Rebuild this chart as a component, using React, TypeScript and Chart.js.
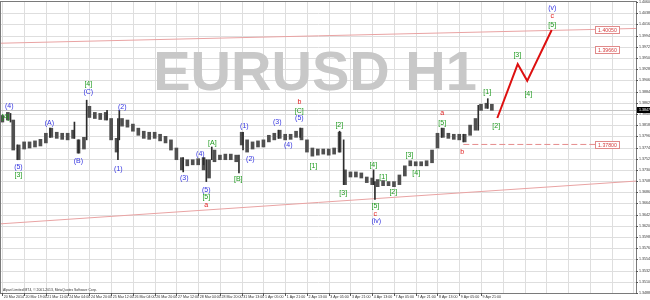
import React, { useEffect, useRef } from 'react';
import { Chart, registerables } from 'chart.js';

Chart.register(...registerables);

// ---- time axis (bar index of each grid line / label, H1 bars) ----
const timeTickBars = [0, 16, 32, 48, 64, 80, 96, 112, 128, 144, 160, 176, 192, 208, 224, 240, 256, 272, 288, 304, 320, 336, 352, 368, 384, 400, 416, 432, 448, 464];
const timeLabels = [
  '20 Mar 2014', '20 Mar 19:00', '21 Mar 11:00', '24 Mar 04:00', '24 Mar 20:00', '25 Mar 12:00',
  '26 Mar 04:00', '26 Mar 20:00', '27 Mar 12:00', '28 Mar 04:00', '28 Mar 20:00', '31 Mar 13:00',
  '1 Apr 05:00', '1 Apr 21:00', '2 Apr 13:00', '3 Apr 05:00', '3 Apr 21:00', '4 Apr 13:00',
  '7 Apr 05:00', '7 Apr 21:00', '8 Apr 13:00', '9 Apr 05:00', '9 Apr 21:00',
];

// ---- price axis ----
const priceTicks = [
  1.4060, 1.4038, 1.4016, 1.3994, 1.3972, 1.3950, 1.3928, 1.3906, 1.3884, 1.3862, 1.3840, 1.3818, 1.3796,
  1.3774, 1.3752, 1.3730, 1.3708, 1.3686, 1.3664, 1.3642, 1.3620, 1.3598, 1.3576, 1.3554, 1.3532, 1.3510, 1.3488,
];

// ---- price bars (sampled every 4 H1 bars): high / low ----
const bandBars = [
  0, 4, 8, 12, 16, 20, 24, 28, 32, 36, 40, 44, 48, 52, 56, 60, 64, 68, 72, 76, 80, 84, 88, 92, 96, 100,
  104, 108, 112, 116, 120, 124, 128, 132, 136, 140, 144, 148, 152, 156, 160, 164, 168, 172, 176, 180,
  184, 188, 192, 196, 200, 204, 208, 212, 216, 220, 224, 228, 232, 236, 240, 244, 248, 252, 256, 260,
  264, 268, 272, 276, 280, 284, 288, 292, 296, 300, 304, 308, 312, 316, 320, 324, 328, 332, 336, 340,
  344, 348, 352, 356, 360,
];
const bandHigh = [
  1.3837, 1.3843, 1.3828, 1.3779, 1.3785, 1.3785, 1.3787, 1.3790, 1.3802, 1.3812, 1.3804, 1.3802, 1.3802,
  1.3808, 1.3789, 1.3794, 1.3855, 1.3843, 1.3841, 1.3843, 1.3831, 1.3792, 1.3831, 1.3828, 1.3820, 1.3812,
  1.3806, 1.3804, 1.3804, 1.3800, 1.3796, 1.3789, 1.3773, 1.3754, 1.3750, 1.3750, 1.3752, 1.3754, 1.3750,
  1.3769, 1.3759, 1.3761, 1.3761, 1.3759, 1.3804, 1.3789, 1.3785, 1.3787, 1.3789, 1.3798, 1.3802, 1.3808,
  1.3800, 1.3800, 1.3806, 1.3812, 1.3789, 1.3773, 1.3771, 1.3771, 1.3771, 1.3773, 1.3804, 1.3730, 1.3726,
  1.3726, 1.3724, 1.3716, 1.3714, 1.3711, 1.3709, 1.3707, 1.3707, 1.3720, 1.3738, 1.3748, 1.3746, 1.3746,
  1.3748, 1.3769, 1.3802, 1.3812, 1.3802, 1.3800, 1.3800, 1.3800, 1.3818, 1.3831, 1.3859, 1.3861, 1.3859,
];
const bandLow = [
  1.3824, 1.3828, 1.3769, 1.3750, 1.3771, 1.3773, 1.3775, 1.3777, 1.3783, 1.3794, 1.3792, 1.3790, 1.3789,
  1.3792, 1.3763, 1.3771, 1.3833, 1.3831, 1.3829, 1.3828, 1.3789, 1.3765, 1.3816, 1.3814, 1.3806, 1.3798,
  1.3792, 1.3790, 1.3792, 1.3787, 1.3783, 1.3769, 1.3750, 1.3730, 1.3738, 1.3740, 1.3740, 1.3730, 1.3714,
  1.3746, 1.3750, 1.3750, 1.3750, 1.3746, 1.3779, 1.3765, 1.3771, 1.3775, 1.3775, 1.3785, 1.3789, 1.3792,
  1.3789, 1.3790, 1.3794, 1.3789, 1.3765, 1.3757, 1.3759, 1.3761, 1.3759, 1.3761, 1.3765, 1.3701, 1.3716,
  1.3716, 1.3714, 1.3705, 1.3701, 1.3697, 1.3699, 1.3699, 1.3697, 1.3701, 1.3718, 1.3738, 1.3738, 1.3738,
  1.3738, 1.3744, 1.3773, 1.3794, 1.3792, 1.3790, 1.3789, 1.3785, 1.3798, 1.3808, 1.3847, 1.3851, 1.3847,
];

// ---- single-bar spikes ----
const spikeBars = [6, 11, 35, 53, 56, 62, 77, 85, 86, 133, 148, 150, 154, 174, 177, 203, 219, 248, 251, 273, 274, 323, 339, 350, 357];
const spikeHigh = [1.3841, 1.3779, 1.3812, 1.3824, 1.3789, 1.3867, 1.3847, 1.3831, 1.3847, 1.3754, 1.3754, 1.3750, 1.3775, 1.3759, 1.3804, 1.3808, 1.3812, 1.3806, 1.3789, 1.3730, 1.3707, 1.3812, 1.3800, 1.3857, 1.3870];
const spikeLow = [1.3824, 1.3750, 1.3794, 1.3792, 1.3763, 1.3789, 1.3828, 1.3750, 1.3789, 1.3726, 1.3740, 1.3707, 1.3750, 1.3724, 1.3769, 1.3792, 1.3794, 1.3765, 1.3701, 1.3701, 1.3672, 1.3794, 1.3785, 1.3808, 1.3851];

const lastPrice = 1.3847;

// ---- projected wave path ----
const projBars = [364, 379, 386, 404];
const projPrices = [1.3832, 1.3938, 1.3905, 1.4005];

// ---- channel lines ----
const upperBars = [-1, 466];
const upperPrices = [1.3979, 1.4008];
const lowerBars = [-1, 466];
const lowerPrices = [1.3624, 1.3708];

// ---- horizontal levels ----
const levelValues = [1.4005, 1.3966, 1.3780];
const levelLabels = ['1.40050', '1.39660', '1.37800'];
const dashedFrom = 339;
const labelBar = 436;

// ---- wave labels ----
const waveBar = [2.2, 5.1, 11.8, 11.8, 34.6, 55.9, 63.2, 63.2, 85.3, 88.2, 133.8, 145.6, 150, 150, 150, 154.4, 173.5, 178, 182.4, 202.2, 210.3, 218.4, 218.4, 218.4, 228.7, 247.8, 250.7, 272.8, 274.3, 274.3, 275, 280.1, 287.5, 299.3, 304.4, 323.5, 323.5, 338.2, 356.6, 363.2, 378.7, 386.8, 404.4, 404.4, 404.4];
const wavePrice = [1.3833, 1.3855, 1.3736, 1.3720, 1.3822, 1.3748, 1.3898, 1.3882, 1.3732, 1.3853, 1.3714, 1.3761, 1.3691, 1.3677, 1.3660, 1.3783, 1.3712, 1.3816, 1.3752, 1.3824, 1.3779, 1.3831, 1.3845, 1.3863, 1.3738, 1.3818, 1.3685, 1.3740, 1.3658, 1.3644, 1.3629, 1.3716, 1.3687, 1.3759, 1.3724, 1.3841, 1.3822, 1.3765, 1.3882, 1.3816, 1.3956, 1.3880, 1.4015, 1.4032, 1.4048];
const waveText = ['[4]', '(4)', '(5)', '[3]', '(A)', '(B)', '[4]', '(C)', '(1)', '(2)', '(3)', '(4)', '(5)', '[5]', 'a', '[A]', '[B]', '(1)', '(2)', '(3)', '(4)', '(5)', '[C]', 'b', '[1]', '[2]', '[3]', '[4]', '[5]', 'c', '(iv)', '[1]', '[2]', '[3]', '[4]', 'a', '[5]', 'b', '[1]', '[2]', '[3]', '[4]', '[5]', 'c', '(v)'];
const waveKind = ['g', 'b', 'b', 'g', 'b', 'b', 'g', 'b', 'b', 'b', 'b', 'b', 'b', 'g', 'r', 'g', 'g', 'b', 'b', 'b', 'b', 'b', 'g', 'r', 'g', 'g', 'g', 'g', 'g', 'r', 'b', 'g', 'g', 'g', 'g', 'r', 'g', 'r', 'g', 'g', 'g', 'g', 'g', 'r', 'b'];

const kindColor: Record<string, string> = { b: '#3434e0', g: '#1e9a1e', r: '#e01c1c' };
const FONT = '"Liberation Sans", Arial, sans-serif';

const overlayPlugin = {
  id: 'overlay',
  beforeDatasetsDraw(chart: any) {
    const { ctx, chartArea, scales } = chart;
    const { left, right, top, bottom } = chartArea;
    const w = right - left;
    ctx.save();
    // light grid
    ctx.strokeStyle = '#dedede';
    ctx.lineWidth = 1;
    ctx.beginPath();
    timeTickBars.forEach((b) => {
      const x = Math.round(scales.x.getPixelForValue(b)) + 0.5;
      if (x > left + 1 && x < right - 1) { ctx.moveTo(x, top); ctx.lineTo(x, bottom); }
    });
    priceTicks.forEach((p) => {
      const y = Math.round(scales.y.getPixelForValue(p)) + 0.5;
      if (y > top + 1 && y < bottom - 1) { ctx.moveTo(left, y); ctx.lineTo(right, y); }
    });
    ctx.stroke();

    ctx.beginPath();
    ctx.rect(left, top, w, bottom - top);
    ctx.clip();
    ctx.font = `bold 56px ${FONT}`;
    ctx.fillStyle = '#c8c8c8';
    ctx.textAlign = 'center';
    ctx.textBaseline = 'alphabetic';
    ctx.fillText('EURUSD H1', left + w * 0.4945, top + 88);
    // bid line
    const yb = Math.round(scales.y.getPixelForValue(lastPrice)) + 0.5;
    ctx.strokeStyle = '#c4c4c4';
    ctx.lineWidth = 1;
    ctx.beginPath();
    ctx.moveTo(left, yb);
    ctx.lineTo(right, yb);
    ctx.stroke();
    ctx.restore();
  },
  afterDraw(chart: any) {
    const { ctx, chartArea, scales } = chart;
    const { left, right, top, bottom } = chartArea;
    const xs = scales.x;
    const ys = scales.y;
    ctx.save();
    // wave labels
    ctx.font = `7px ${FONT}`;
    ctx.textAlign = 'center';
    ctx.textBaseline = 'middle';
    waveText.forEach((t, k) => {
      ctx.fillStyle = kindColor[waveKind[k]];
      ctx.fillText(t, xs.getPixelForValue(waveBar[k]), ys.getPixelForValue(wavePrice[k]));
    });
    // level label boxes
    ctx.font = `5.2px ${FONT}`;
    levelValues.forEach((v, k) => {
      const x0 = Math.round(xs.getPixelForValue(labelBar)) + 0.5;
      const yc = ys.getPixelForValue(v);
      const y0 = Math.round(yc - 3.5) + 0.5;
      ctx.fillStyle = '#ffffff';
      ctx.fillRect(x0, y0, 24, 7);
      ctx.strokeStyle = '#e08a8a';
      ctx.lineWidth = 1;
      ctx.strokeRect(x0, y0, 24, 7);
      ctx.fillStyle = '#d43c3c';
      ctx.textAlign = 'center';
      ctx.fillText(levelLabels[k], x0 + 12, y0 + 4);
    });
    // copyright
    ctx.font = `3.4px ${FONT}`;
    ctx.fillStyle = '#333';
    ctx.textAlign = 'left';
    ctx.textBaseline = 'alphabetic';
    ctx.fillText('Alpari Limited MT4, © 2001-2013, MetaQuotes Software Corp.', left + 2, bottom - 2);
    // frame
    ctx.strokeStyle = '#7a7a7a';
    ctx.lineWidth = 1;
    ctx.strokeRect(left - 0.5, top - 0.5, right - left + 1, bottom - top + 1);
    // axis tick marks and labels
    ctx.strokeStyle = '#555';
    ctx.beginPath();
    priceTicks.forEach((p) => {
      const y = Math.round(ys.getPixelForValue(p)) + 0.5;
      ctx.moveTo(right, y); ctx.lineTo(right + 2, y);
    });
    timeLabels.forEach((_, k) => {
      const x = Math.round(xs.getPixelForValue(timeTickBars[k])) + 0.5;
      ctx.moveTo(x, bottom); ctx.lineTo(x, bottom + 3);
    });
    ctx.stroke();
    ctx.fillStyle = '#333';
    ctx.font = `3.6px ${FONT}`;
    ctx.textAlign = 'left';
    ctx.textBaseline = 'middle';
    priceTicks.forEach((p) => {
      ctx.fillText(p.toFixed(5), right + 3, ys.getPixelForValue(p));
    });
    timeLabels.forEach((t, k) => {
      ctx.fillText(t, xs.getPixelForValue(timeTickBars[k]) + 1.5, bottom + 4);
    });
    // last price box on the axis
    const yl = ys.getPixelForValue(lastPrice);
    ctx.fillStyle = '#000';
    ctx.fillRect(right + 1, Math.round(yl - 3), 14, 6);
    ctx.fillStyle = '#fff';
    ctx.fillText(lastPrice.toFixed(5), right + 3, yl);
    ctx.restore();
  },
};

export default function App() {
  const ref = useRef<HTMLCanvasElement | null>(null);
  useEffect(() => {
    document.body.style.margin = '0';
    const canvas = ref.current;
    if (!canvas) return;
    const band = bandBars.map((x, j) => ({ x, y: [bandLow[j], bandHigh[j]] }));
    const spikes = spikeBars.map((x, j) => ({ x, y: [spikeLow[j], spikeHigh[j]] }));
    const proj = projBars.map((x, j) => ({ x, y: projPrices[j] }));
    const upper = upperBars.map((x, j) => ({ x, y: upperPrices[j] }));
    const lower = lowerBars.map((x, j) => ({ x, y: lowerPrices[j] }));
    const dashed = [{ x: dashedFrom, y: levelValues[2] }, { x: labelBar, y: levelValues[2] }];

    const chart = new Chart(canvas, {
      type: 'bar',
      data: {
        datasets: [
          { type: 'line', data: upper, borderColor: '#e9a3a3', borderWidth: 1, pointRadius: 0, order: 5 } as any,
          { type: 'line', data: lower, borderColor: '#e9a3a3', borderWidth: 1, pointRadius: 0, order: 5 } as any,
          { type: 'line', data: dashed, borderColor: '#e58c8c', borderWidth: 1, borderDash: [6, 3], pointRadius: 0, order: 5 } as any,
          { type: 'bar', data: band, backgroundColor: '#505050', barThickness: 3, grouped: false, order: 3 } as any,
          { type: 'bar', data: spikes, backgroundColor: '#2c2c2c', barThickness: 1, grouped: false, order: 2 } as any,
          { type: 'line', data: proj, borderColor: '#dd1010', borderWidth: 2, pointRadius: 0, order: 1 } as any,
        ],
      },
      options: {
        responsive: false,
        animation: false,
        events: [],
        layout: { padding: { top: 2, left: 1, right: 0, bottom: 0 } },
        plugins: { legend: { display: false }, tooltip: { enabled: false } },
        scales: {
          x: {
            type: 'linear',
            min: -1,
            max: 466,
            offset: false,
            afterBuildTicks: (s: any) => { s.ticks = timeTickBars.map((v) => ({ value: v })); },
            afterFit: (s: any) => { s.height = 7; },
            grid: { display: false },
            border: { display: false },
            ticks: { display: false },
          },
          y: {
            type: 'linear',
            position: 'right',
            min: 1.3488,
            max: 1.4060,
            beginAtZero: false,
            afterBuildTicks: (s: any) => { s.ticks = priceTicks.map((v) => ({ value: v })); },
            afterFit: (s: any) => { s.width = 14; },
            grid: { display: false },
            border: { display: false },
            ticks: { display: false },
          },
        },
      },
      plugins: [overlayPlugin],
    } as any);
    return () => chart.destroy();
  }, []);

  return (
    <div style={{ width: 650, height: 300, background: '#fff' }}>
      <canvas ref={ref} width={650} height={300} style={{ display: 'block' }} />
    </div>
  );
}
